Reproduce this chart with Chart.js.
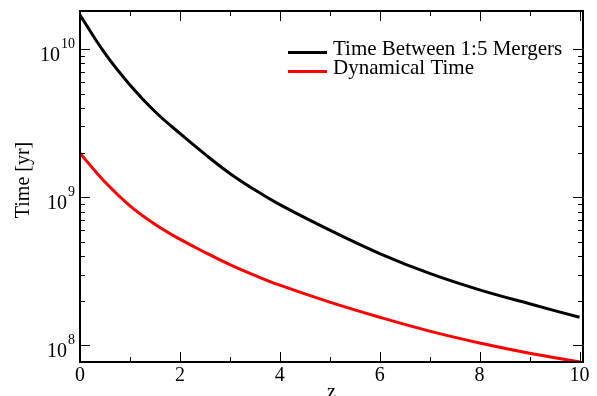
<!DOCTYPE html>
<html>
<head>
<meta charset="utf-8">
<script src="https://cdn.jsdelivr.net/npm/chart.js@4.4.0/dist/chart.umd.min.js"></script>
<style>
  html, body { margin: 0; padding: 0; background: #fff; }
</style>
</head>
<body>
<canvas id="myChart" width="597" height="396"></canvas>
<script>
// values
const redshifts = [0, 0.5, 1, 1.5, 2, 2.5, 3, 3.5, 4, 5, 6, 7, 8, 9, 10];
const mergerTime = [1.69e10, 9.31e9, 5.71e9, 3.78e9, 2.69e9, 1.95e9, 1.445e9, 1.12e9, 8.91e8, 6.0e8, 4.17e8, 3.06e8, 2.37e8, 1.91e8, 1.55e8];
const dynamicalTime = [1.98e9, 1.265e9, 8.75e8, 6.58e8, 5.21e8, 4.25e8, 3.51e8, 2.97e8, 2.55e8, 1.96e8, 1.55e8, 1.25e8, 1.04e8, 8.87e7, 7.76e7];
const seriesLabels = ['Time Between 1:5 Mergers', 'Dynamical Time'];
const xTicks = [0, 1, 2, 3, 4, 5, 6, 7, 8, 9, 10];
const xTickLabels = ['0', '', '2', '', '4', '', '6', '', '8', '', '10'];
const yDecades = [8, 9, 10];
const yTitle = 'Time [yr]';
const xTitle = 'z';

const FONT = "'Liberation Serif', 'Times New Roman', serif";

const toPoints = (ys) => ys.map((y, i) => ({ x: redshifts[i], y }));

const framePlugin = {
  id: 'frame',
  afterDraw(chart) {
    const ctx = chart.ctx;
    const { left, right, top, bottom } = chart.chartArea;
    const xs = chart.scales.x;
    const ys = chart.scales.y;
    ctx.save();
    ctx.strokeStyle = '#000';
    ctx.fillStyle = '#000';

    // inward tick marks
    ctx.lineWidth = 1;
    ctx.beginPath();
    xTicks.forEach((v, i) => {
      const px = Math.round(xs.getPixelForValue(v)) + 0.5;
      const len = xTickLabels[i] !== '' ? 10 : 5;
      ctx.moveTo(px, bottom); ctx.lineTo(px, bottom - len);
      ctx.moveTo(px, top); ctx.lineTo(px, top + len);
    });
    yDecades.forEach((d) => {
      for (let m = 1; m < 10; m++) {
        const val = m * Math.pow(10, d);
        if (val < ys.min || val > ys.max) continue;
        const py = Math.round(ys.getPixelForValue(val)) + 0.5;
        const len = m === 1 ? 10 : 5;
        ctx.moveTo(left, py); ctx.lineTo(left + len, py);
        ctx.moveTo(right, py); ctx.lineTo(right - len, py);
      }
    });
    ctx.stroke();

    // frame
    ctx.lineWidth = 2;
    ctx.strokeRect(left, top, right - left, bottom - top);

    // y tick labels 10^n
    yDecades.forEach((d) => {
      const py = ys.getPixelForValue(Math.pow(10, d));
      const exp = String(d);
      ctx.font = '14px ' + FONT;
      const ew = ctx.measureText(exp).width;
      ctx.textAlign = 'left';
      ctx.textBaseline = 'alphabetic';
      ctx.fillText(exp, 75 - ew, py - 1);
      ctx.font = '20px ' + FONT;
      ctx.textAlign = 'right';
      ctx.fillText('10', 75 - ew - 1, py + 12);
    });

    // y title
    ctx.save();
    ctx.translate(29, 180);
    ctx.rotate(-Math.PI / 2);
    ctx.font = '20px ' + FONT;
    ctx.textAlign = 'center';
    ctx.textBaseline = 'alphabetic';
    ctx.fillText(yTitle, 0, 0);
    ctx.restore();

    // legend
    chart.data.datasets.forEach((ds, i) => {
      const base = 55 + i * 19;
      ctx.strokeStyle = ds.borderColor;
      ctx.lineWidth = 3;
      ctx.beginPath();
      ctx.moveTo(288, base - 2.5);
      ctx.lineTo(327, base - 2.5);
      ctx.stroke();
      ctx.font = '21px ' + FONT;
      ctx.textAlign = 'left';
      ctx.textBaseline = 'alphabetic';
      ctx.fillText(ds.label, 333, base);
    });
    ctx.restore();
  }
};

const ctx = document.getElementById('myChart').getContext('2d');
// eslint-disable-next-line
const myChart = new Chart(ctx, {
  type: 'line',
  data: {
    datasets: [
      {
        label: seriesLabels[0],
        data: toPoints(mergerTime),
        borderColor: '#000000',
        borderWidth: 3,
        pointRadius: 0,
        tension: 0.4,
        fill: false,
      },
      {
        label: seriesLabels[1],
        data: toPoints(dynamicalTime),
        borderColor: '#ff0000',
        borderWidth: 3,
        pointRadius: 0,
        tension: 0.4,
        fill: false,
      },
    ],
  },
  options: {
    responsive: false,
    animation: false,
    devicePixelRatio: 1,
    layout: { padding: { left: 0, top: 11, right: 14, bottom: 0 } },
    plugins: { legend: { display: false }, tooltip: { enabled: false } },
    scales: {
      x: {
        type: 'linear',
        min: 0,
        max: 10.07,
        afterBuildTicks: (scale) => { scale.ticks = xTicks.map((v) => ({ value: v })); },
        afterFit: (scale) => { scale.height = 34; },
        grid: { display: false, drawTicks: false },
        border: { display: false },
        ticks: {
          autoSkip: false,
          maxRotation: 0,
          padding: 2,
          color: '#000',
          font: { family: FONT, size: 20 },
          callback: (v, i) => xTickLabels[i],
        },
        title: {
          display: true,
          text: xTitle,
          color: '#000',
          font: { family: FONT, size: 20 },
          padding: { top: 0, bottom: -9 },
        },
      },
      y: {
        type: 'logarithmic',
        min: 7.74e7,
        max: 1.8e10,
        afterFit: (scale) => { scale.width = 80; },
        grid: { display: false, drawTicks: false },
        border: { display: false },
        ticks: { display: false },
      },
    },
  },
  plugins: [framePlugin],
});
</script>
</body>
</html>
